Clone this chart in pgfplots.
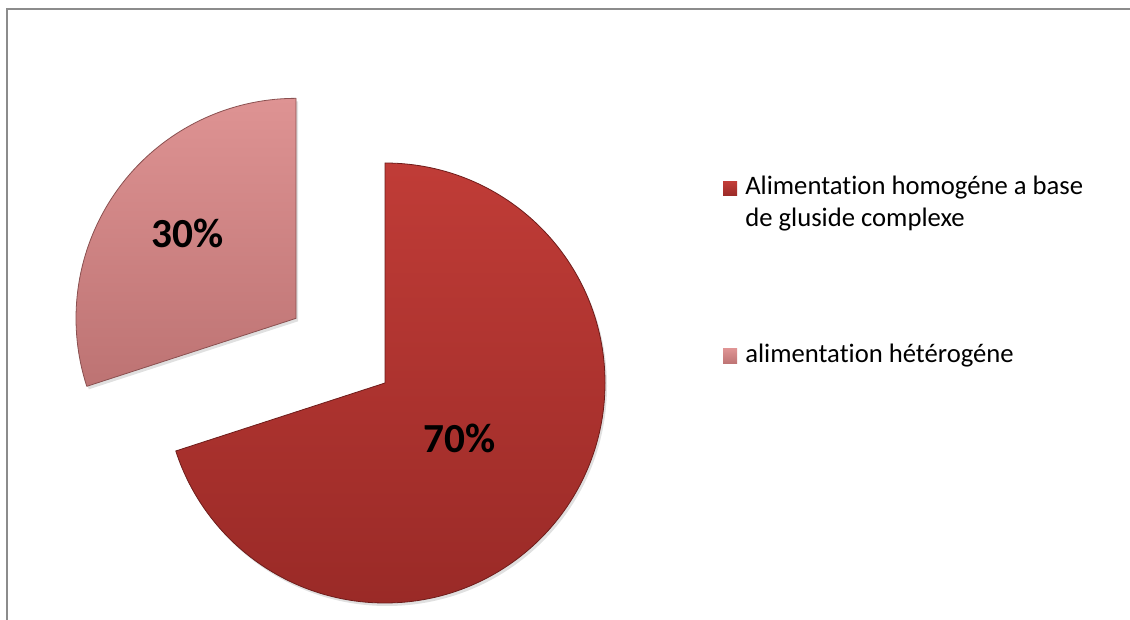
\documentclass[border=0pt]{standalone}
\usepackage{fontspec}
\setmainfont[Ligatures={NoCommon,NoContextual,NoRare}]{Carlito}
\usepackage{pgfplots}
\usepackage{pgfplotstable}
\pgfplotsset{compat=1.18}
\definecolor{redTop}{HTML}{C03C37}
\definecolor{redBot}{HTML}{9A2A27}
\definecolor{redEdge}{HTML}{6E1C1A}
\definecolor{pinkTop}{HTML}{DE9393}
\definecolor{pinkBot}{HTML}{BD7373}
\definecolor{pinkEdge}{HTML}{8A5050}
\definecolor{frameGray}{HTML}{8C8C8C}
\newcommand{\nti}{t\kern0pt i}
\pgfplotstableread{
idx value
0 70
1 30
}\piedata
\begin{document}
\begin{tikzpicture}
\pgfplotstablegetelem{0}{value}\of\piedata \pgfmathsetmacro{\va}{\pgfplotsretval}
\pgfplotstablegetelem{1}{value}\of\piedata \pgfmathsetmacro{\vb}{\pgfplotsretval}
\pgfmathsetmacro{\aEnd}{90-3.6*\va}
\pgfmathsetmacro{\bEnd}{90+3.6*\vb}
\pgfmathsetmacro{\bMid}{90+1.8*\vb}
\begin{axis}[scale only axis, width=847.5pt, height=465pt,
  xmin=0, xmax=1130, ymin=0, ymax=620, hide axis, clip=false]
% frame
\draw[frameGray, line width=1.5pt] (axis cs:7,-5) -- (axis cs:7,611) -- (axis cs:1135,611);
% shadows
\fill[black!12] (axis cs:387,234) -- ++(90:165pt) arc[start angle=90, end angle=\aEnd, radius=165pt] -- cycle;
\fill[black!12] (axis cs:387,234) ++(\bMid:82.5pt) -- ++(90:165pt) arc[start angle=90, end angle=\bEnd, radius=165pt] -- cycle;
% 70% slice
\draw[top color=redTop, bottom color=redBot, draw=redEdge, line width=0.6pt, line join=round]
  (axis cs:385,237) -- ++(90:165pt) arc[start angle=90, end angle=\aEnd, radius=165pt] -- cycle;
% 30% slice (exploded)
\draw[top color=pinkTop, bottom color=pinkBot, draw=pinkEdge, line width=0.6pt, line join=round]
  (axis cs:385,237) ++(\bMid:82.5pt) -- ++(90:165pt) arc[start angle=90, end angle=\bEnd, radius=165pt] -- cycle;
% data labels
\node[font=\bfseries\fontsize{31}{31}\selectfont] at (axis cs:188,387) {30\%};
\node[font=\bfseries\fontsize{31}{31}\selectfont] at (axis cs:460,182) {70\%};
% legend
\fill[top color=redTop, bottom color=redBot] (axis cs:723,424) rectangle (axis cs:737,438);
\fill[top color=pinkTop, bottom color=pinkBot] (axis cs:723,256) rectangle (axis cs:737,271);
\node[anchor=base west, inner sep=0pt, font=\fontsize{20}{24}\selectfont] at (axis cs:745,425) {Alimenta\nti on homogéne a base};
\node[anchor=base west, inner sep=0pt, font=\fontsize{20}{24}\selectfont] at (axis cs:745,393) {de gluside complexe};
\node[anchor=base west, inner sep=0pt, font=\fontsize{20}{24}\selectfont] at (axis cs:745,257) {alimenta\nti on hétérogéne};
\end{axis}
\pgfresetboundingbox
\path[use as bounding box] (current axis.south west) rectangle (current axis.north east);
\end{tikzpicture}
\end{document}
